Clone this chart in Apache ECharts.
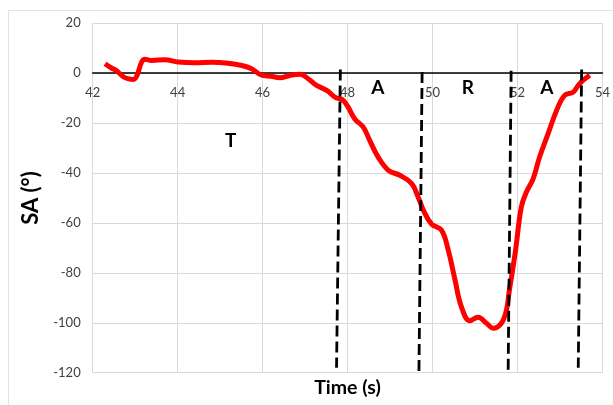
<!DOCTYPE html>
<html>
<head>
<meta charset="utf-8">
<script src="https://cdn.jsdelivr.net/npm/echarts@6/dist/echarts.min.js"></script>
<style>html,body{margin:0;padding:0;background:#fff}#c{width:613px;height:405px}</style>
</head>
<body>
<div id="c"></div>
<script>
// Data
var time = [42.29,42.45,42.55,42.72,42.85,42.96,43.04,43.15,43.23,43.39,43.70,44.01,44.41,44.80,45.19,45.51,45.74,45.98,46.20,46.41,46.64,46.88,47.07,47.27,47.51,47.72,47.88,48.01,48.17,48.37,48.52,48.72,48.96,49.23,49.51,49.66,49.80,49.98,50.21,50.37,50.53,50.68,50.88,51.07,51.27,51.43,51.62,51.74,51.80,51.95,52.09,52.21,52.37,52.52,52.72,52.92,53.11,53.31,53.43,53.54,53.70];
var sa = [3.8,2.0,1.2,-1.4,-2.3,-2.5,-1.0,4.4,5.6,5.1,5.4,4.5,4.2,4.4,4.0,3.1,1.8,-0.8,-1.2,-1.8,-0.9,-0.4,-2.2,-4.9,-6.9,-9.8,-10.6,-13.5,-18.3,-21.6,-26.9,-33.6,-38.9,-40.9,-44.2,-49.6,-55.5,-60.5,-62.9,-70.9,-82.9,-93.6,-99.2,-97.8,-100.2,-102.2,-100.2,-94.9,-88.0,-71.5,-53.6,-47.6,-42.2,-33.6,-24.2,-14.9,-8.9,-7.6,-4.9,-2.9,-0.8];
// Phase boundary dashed lines: [topX, topY, bottomX, bottomY]
var phaseLines = [
  [47.83, 1.5, 47.74, -118],
  [49.755, 0.5, 49.68, -119.5],
  [51.85, 1.0, 51.78, -119],
  [53.51, 1.5, 53.43, -118]
];
var phaseLabels = ['T','A','R','A'];
var phaseLabelX = [45.25, 48.71, 50.83, 52.69];
var phaseLabelY = [-27.0, -5.9, -5.9, -5.9];
var xTicks = {min: 42, max: 54, interval: 2};
var yTicks = {min: -120, max: 20, interval: 20};

var FONT = 'Lato, "Open Sans", sans-serif';
var GRID = {left: 92.7, right: 10.3, top: 23.3, bottom: 32.3};
var plotH = 405 - GRID.top - GRID.bottom;
// shift x axis up so it sits on y = 0
var zeroOffset = -plotH * (0 - yTicks.min) / (yTicks.max - yTicks.min);

var chart = echarts.init(document.getElementById('c'), null, {renderer: 'canvas'});

var series = [];
series.push({
  type: 'line',
  data: time.map(function (t, i) { return [t, sa[i]]; }),
  smooth: 0.4,
  showSymbol: false,
  lineStyle: {color: '#ff0000', width: 5},
  z: 3
});
phaseLines.forEach(function (l) {
  series.push({
    type: 'line',
    data: [[l[0], l[1]], [l[2], l[3]]],
    showSymbol: false,
    lineStyle: {color: '#000', width: 2.8, type: [11, 5]},
    z: 4
  });
});
series.push({
  type: 'scatter',
  symbolSize: 0,
  itemStyle: {color: '#000', opacity: 1},
  data: phaseLabels.map(function (s, i) { return {value: [phaseLabelX[i], phaseLabelY[i]], name: s}; }),
  label: {show: true, position: 'inside', formatter: '{b}', fontFamily: FONT, fontWeight: 'bold', fontSize: 19, color: '#000', opacity: 1, textBorderWidth: 0},
  z: 5
});

chart.setOption({
  animation: false,
  backgroundColor: '#fff',
  grid: {left: GRID.left, right: GRID.right, top: GRID.top, bottom: GRID.bottom, containLabel: false},
  xAxis: {
    type: 'value', min: xTicks.min, max: xTicks.max, interval: xTicks.interval,
    position: 'bottom', offset: zeroOffset,
    axisLine: {onZero: false, lineStyle: {color: '#000', width: 1.5}},
    axisTick: {show: false},
    axisLabel: {color: '#404040', fontSize: 13, fontFamily: FONT, margin: 13},
    splitLine: {show: true, lineStyle: {color: '#d9d9d9', width: 1}}
  },
  yAxis: {
    type: 'value', min: yTicks.min, max: yTicks.max, interval: yTicks.interval,
    name: 'SA (°)', nameLocation: 'middle', nameGap: 43,
    nameTextStyle: {fontFamily: FONT, fontWeight: 'bold', fontSize: 22, color: '#000'},
    axisLine: {show: false},
    axisTick: {show: false},
    axisLabel: {color: '#404040', fontSize: 13, fontFamily: FONT, margin: 12},
    splitLine: {show: true, lineStyle: {color: '#d9d9d9', width: 1}}
  },
  graphic: [
    {type: 'rect', shape: {x: 8.5, y: 10.5, width: 700, height: 500}, style: {fill: 'none', stroke: '#e3e3e3', lineWidth: 1}, silent: true, z: -1},
    {type: 'text', x: 347.5, y: 388, style: {text: 'Time (s)', fontFamily: FONT, fontWeight: 'bold', fontSize: 19.5, fill: '#000', align: 'center', verticalAlign: 'middle'}}
  ],
  series: series
});
</script>
</body>
</html>
